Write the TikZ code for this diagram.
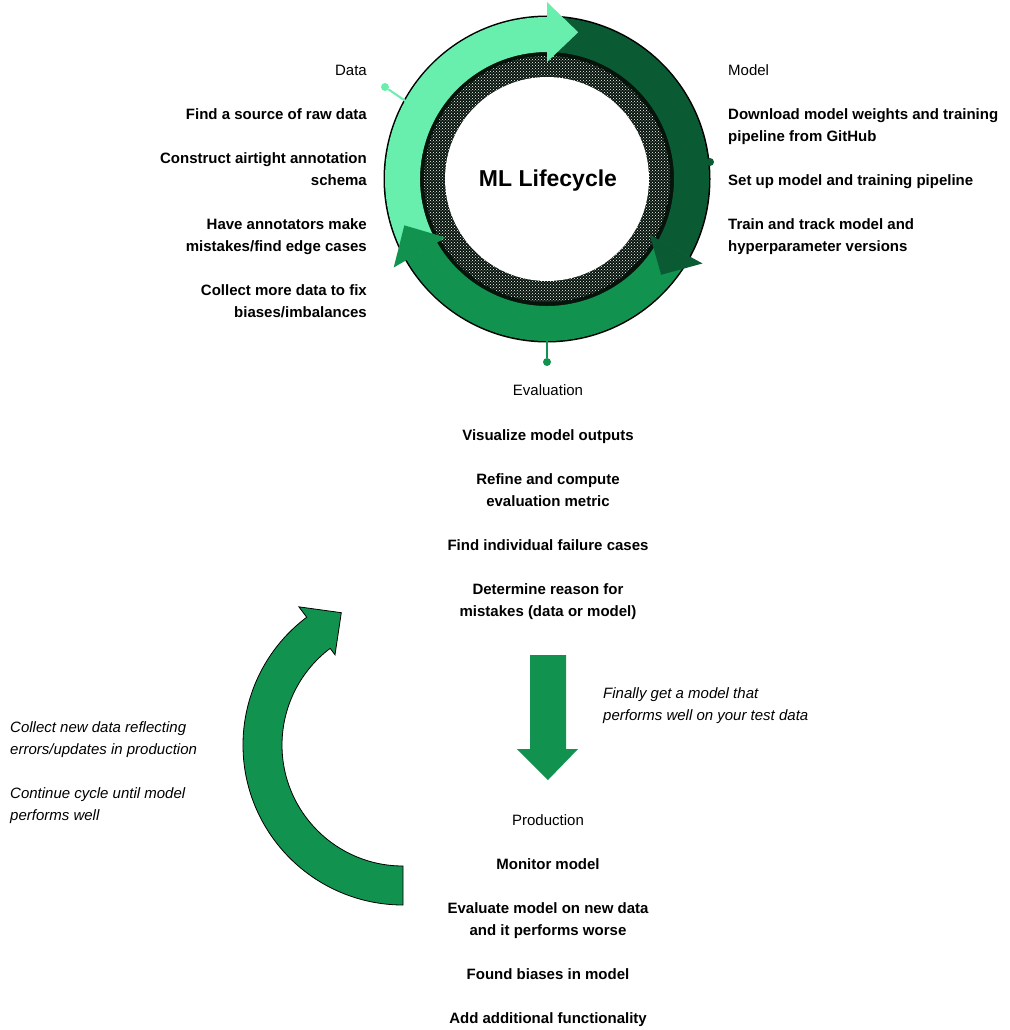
\documentclass[tikz,border=0pt]{standalone}
\usepackage{fontspec}
\setmainfont{Liberation Sans}
\usetikzlibrary{patterns}

\definecolor{lightg}{HTML}{68EFAD}
\definecolor{darkg}{HTML}{0A5A33}
\definecolor{midg}{HTML}{11934F}
\definecolor{ringblack}{HTML}{07140C}

\begin{document}
\begin{tikzpicture}[x=1pt, y=-1pt,
    phase/.style={inner sep=0pt, font=\fontsize{15}{22}\selectfont},
    task/.style={inner sep=0pt, font=\fontsize{15}{22}\selectfont\bfseries},
    note/.style={inner sep=0pt, font=\fontsize{15}{22}\selectfont\itshape},
    pindot/.style={circle, inner sep=0pt, minimum size=8pt}]
  \useasboundingbox[fill=white] (0,0) rectangle (1009,1030);

  % Cycle ring
  \begin{scope}[shift={(547,179)}, x=1pt, y=1pt]
    \fill[black] (0,0) circle[radius=163.5];
    \fill[ringblack] (0,0) circle[radius=128];
    \fill[white] (0,0) circle[radius=102];
    \fill[pattern=crosshatch dots, pattern color=white, even odd rule] (0,0) circle[radius=123] (0,0) circle[radius=102];
    % arrow bodies
    \fill[lightg] (210:127) arc[start angle=210, end angle=90, radius=127] -- (90:162) arc[start angle=90, end angle=210, radius=162] -- cycle;
    \fill[darkg] (90:127) arc[start angle=90, end angle=-28.5, radius=127] -- (-28.5:162) arc[start angle=-28.5, end angle=90, radius=162] -- cycle;
    \fill[midg] (-28.5:127) arc[start angle=-28.5, end angle=-150, radius=127] -- (-150:162) arc[start angle=-150, end angle=-28.5, radius=162] -- cycle;
    % arrow heads
    \fill[lightg] (90:117) -- (90:177) -- (78:150) -- cycle;
    \fill[darkg] (-28.5:117) -- (-28.5:177) -- (-40:149) -- cycle;
    \fill[midg] (-150:117) -- (-150:177) -- (-162:150) -- cycle;
  \end{scope}

  \node[font=\fontsize{23}{28}\selectfont\bfseries] (title) at (548,181) {ML Lifecycle};

  % Pins
  \coordinate (dataedge) at (407,102);
  \node[pindot, fill=lightg] (datapin) at (385,87) {};
  \draw[lightg, line width=2pt] (datapin) -- (dataedge);
  \node[pindot, fill=darkg] (modelpin) at (710,162) {};
  \coordinate (evaledge) at (547,341);
  \node[pindot, fill=midg] (evalpin) at (547,362) {};
  \draw[midg, line width=2pt] (evaledge) -- (evalpin);

  % Data
  \node[phase, anchor=north east] (data) at (367,64.5) {Data};
  \node[task, anchor=north east, align=right] (data1) at (367,108.5) {Find a source of raw data};
  \node[task, anchor=north east, align=right] (data2) at (367,152.5) {Construct airtight annotation\\schema};
  \node[task, anchor=north east, align=right] (data3) at (367,218.5) {Have annotators make\\mistakes/find edge cases};
  \node[task, anchor=north east, align=right] (data4) at (367,284.5) {Collect more data to fix\\biases/imbalances};

  % Model
  \node[phase, anchor=north west] (model) at (728,64.5) {Model};
  \node[task, anchor=north west, align=left] (model1) at (728,108.5) {Download model weights and training\\pipeline from GitHub};
  \node[task, anchor=north west, align=left] (model2) at (728,174.5) {Set up model and training pipeline};
  \node[task, anchor=north west, align=left] (model3) at (728,218.5) {Train and track model and\\hyperparameter versions};

  % Evaluation
  \node[phase, anchor=north] (eval) at (548,384.5) {Evaluation};
  \node[task, anchor=north, align=center] (eval1) at (548,429.5) {Visualize model outputs};
  \node[task, anchor=north, align=center] (eval2) at (548,473.5) {Refine and compute\\evaluation metric};
  \node[task, anchor=north, align=center] (eval3) at (548,539.5) {Find individual failure cases};
  \node[task, anchor=north, align=center] (eval4) at (548,583.5) {Determine reason for\\mistakes (data or model)};

  % Down arrow
  \fill[midg] (530,655) -- (566,655) -- (566,749) -- (578,749) -- (548,780) -- (517,749) -- (530,749) -- cycle;
  \node[note, anchor=north west, align=left] (finally) at (603,687.5) {Finally get a model that\\performs well on your test data};

  % Production
  \node[phase, anchor=north] (prod) at (548,814.5) {Production};
  \node[task, anchor=north, align=center] (prod1) at (548,858.5) {Monitor model};
  \node[task, anchor=north, align=center] (prod2) at (548,902.5) {Evaluate model on new data\\and it performs worse};
  \node[task, anchor=north, align=center] (prod3) at (548,968.5) {Found biases in model};
  \node[task, anchor=north, align=center] (prod4) at (548,1012.5) {Add additional functionality};

  % Feedback arc
  \begin{scope}[shift={(403,745)}, x=1pt, y=1pt]
    \filldraw[midg, draw=black, line width=0.8pt] (270:121) arc[start angle=270, end angle=127, radius=121] -- (127:113) -- (115:146) -- (127:173) -- (127:160) arc[start angle=127, end angle=270, radius=160] -- cycle;
  \end{scope}
  \node[note, anchor=north west, align=left] (collect) at (10,721.5) {Collect new data reflecting\\errors/updates in production};
  \node[note, anchor=north west, align=left] (continue) at (10,787.5) {Continue cycle until model\\performs well};
\end{tikzpicture}
\end{document}
